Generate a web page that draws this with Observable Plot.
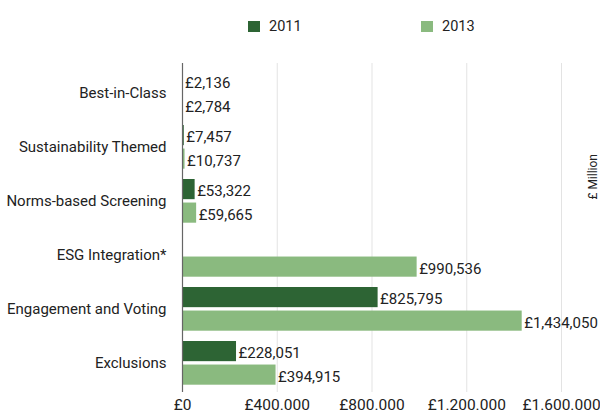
<!DOCTYPE html>
<html>
<head>
<meta charset="utf-8">
<script src="https://cdn.jsdelivr.net/npm/d3@7"></script>
<script src="https://cdn.jsdelivr.net/npm/@observablehq/plot@0.6"></script>
<style>
  html, body { margin: 0; padding: 0; background: #fff; }
  body { width: 600px; height: 414px; overflow: hidden; font-family: Roboto, sans-serif; color: #222; }
  #legend { position: relative; height: 46px; }
  .item { position: absolute; top: 18px; display: flex; align-items: center; font-size: 14.5px; color: #222; }
  .sw { width: 12px; height: 11px; margin-right: 9px; }
</style>
</head>
<body>
<div id="legend"></div>
<div id="chart"></div>
<script>
const categories = ["Best-in-Class", "Sustainability Themed", "Norms-based Screening", "ESG Integration*", "Engagement and Voting", "Exclusions"];
const years = ["2011", "2013"];
const values2011 = [2136, 7457, 53322, null, 825795, 228051];
const values2013 = [2784, 10737, 59665, 990536, 1434050, 394915];
const xTicks = [0, 400000, 800000, 1200000, 1600000];
const xTickLabels = ["£0", "£400.000", "£800.000", "£1.200.000", "£1.600.000"];
const colors = ["#2d6434", "#8aba7f"];
const unitLabel = "£ Million";

const rows2011 = categories.map((c, i) => ({category: c, year: years[0], value: values2011[i]})).filter(d => d.value != null);
const rows2013 = categories.map((c, i) => ({category: c, year: years[1], value: values2013[i]})).filter(d => d.value != null);
const fmt = v => "£" + d3.format(",")(v);

// legend
const legend = document.getElementById("legend");
const legendX = [248, 421];
years.forEach((y, i) => {
  const it = document.createElement("div");
  it.className = "item";
  it.style.left = legendX[i] + "px";
  it.innerHTML = `<span class="sw" style="background:${colors[i]}"></span><span>${y}</span>`;
  legend.appendChild(it);
});

const H = 368, mTop = 17, mBottom = 22;
const band = (H - mTop - mBottom) / categories.length;
const barH = 21;

const chart = Plot.plot({
  width: 600,
  height: H,
  marginLeft: 182,
  marginRight: 39,
  marginTop: mTop,
  marginBottom: mBottom,
  style: {fontFamily: "Roboto, sans-serif", fontSize: "15px", color: "#222", background: "#fff"},
  x: {domain: [0, 1600000]},
  y: {domain: categories, padding: 0},
  marks: [
    Plot.gridX(xTicks.slice(1), {stroke: "#e3e3e3", strokeOpacity: 1}),
    Plot.barX(rows2011, {y: "category", x: "value", fill: colors[0], insetTop: 5, insetBottom: band - 5 - barH}),
    Plot.barX(rows2013, {y: "category", x: "value", fill: colors[1], insetTop: band - 5.3 - barH, insetBottom: 5.3}),
    Plot.text(rows2011, {y: "category", x: "value", text: d => fmt(d.value), textAnchor: "start", dx: 2, dy: -10, fontSize: 15, fill: "#222"}),
    Plot.text(rows2013, {y: "category", x: "value", text: d => fmt(d.value), textAnchor: "start", dx: 2, dy: 14, fontSize: 15, fill: "#222"}),
    Plot.ruleX([0], {stroke: "#666", strokeWidth: 1.2}),
    Plot.axisY({tickSize: 0, tickPadding: 16, label: null, fill: "#222", fontSize: 15}),
    Plot.axisX({ticks: xTicks, tickFormat: (d) => xTickLabels[xTicks.indexOf(d)], tickSize: 0, tickPadding: 6, label: null, fill: "#222", fontSize: 15.5}),
    Plot.text([unitLabel], {text: d => d, frameAnchor: "right", rotate: -90, dx: 32, dy: -74, fontSize: 12, fill: "#222"})
  ]
});
document.getElementById("chart").appendChild(chart);
</script>
</body>
</html>
